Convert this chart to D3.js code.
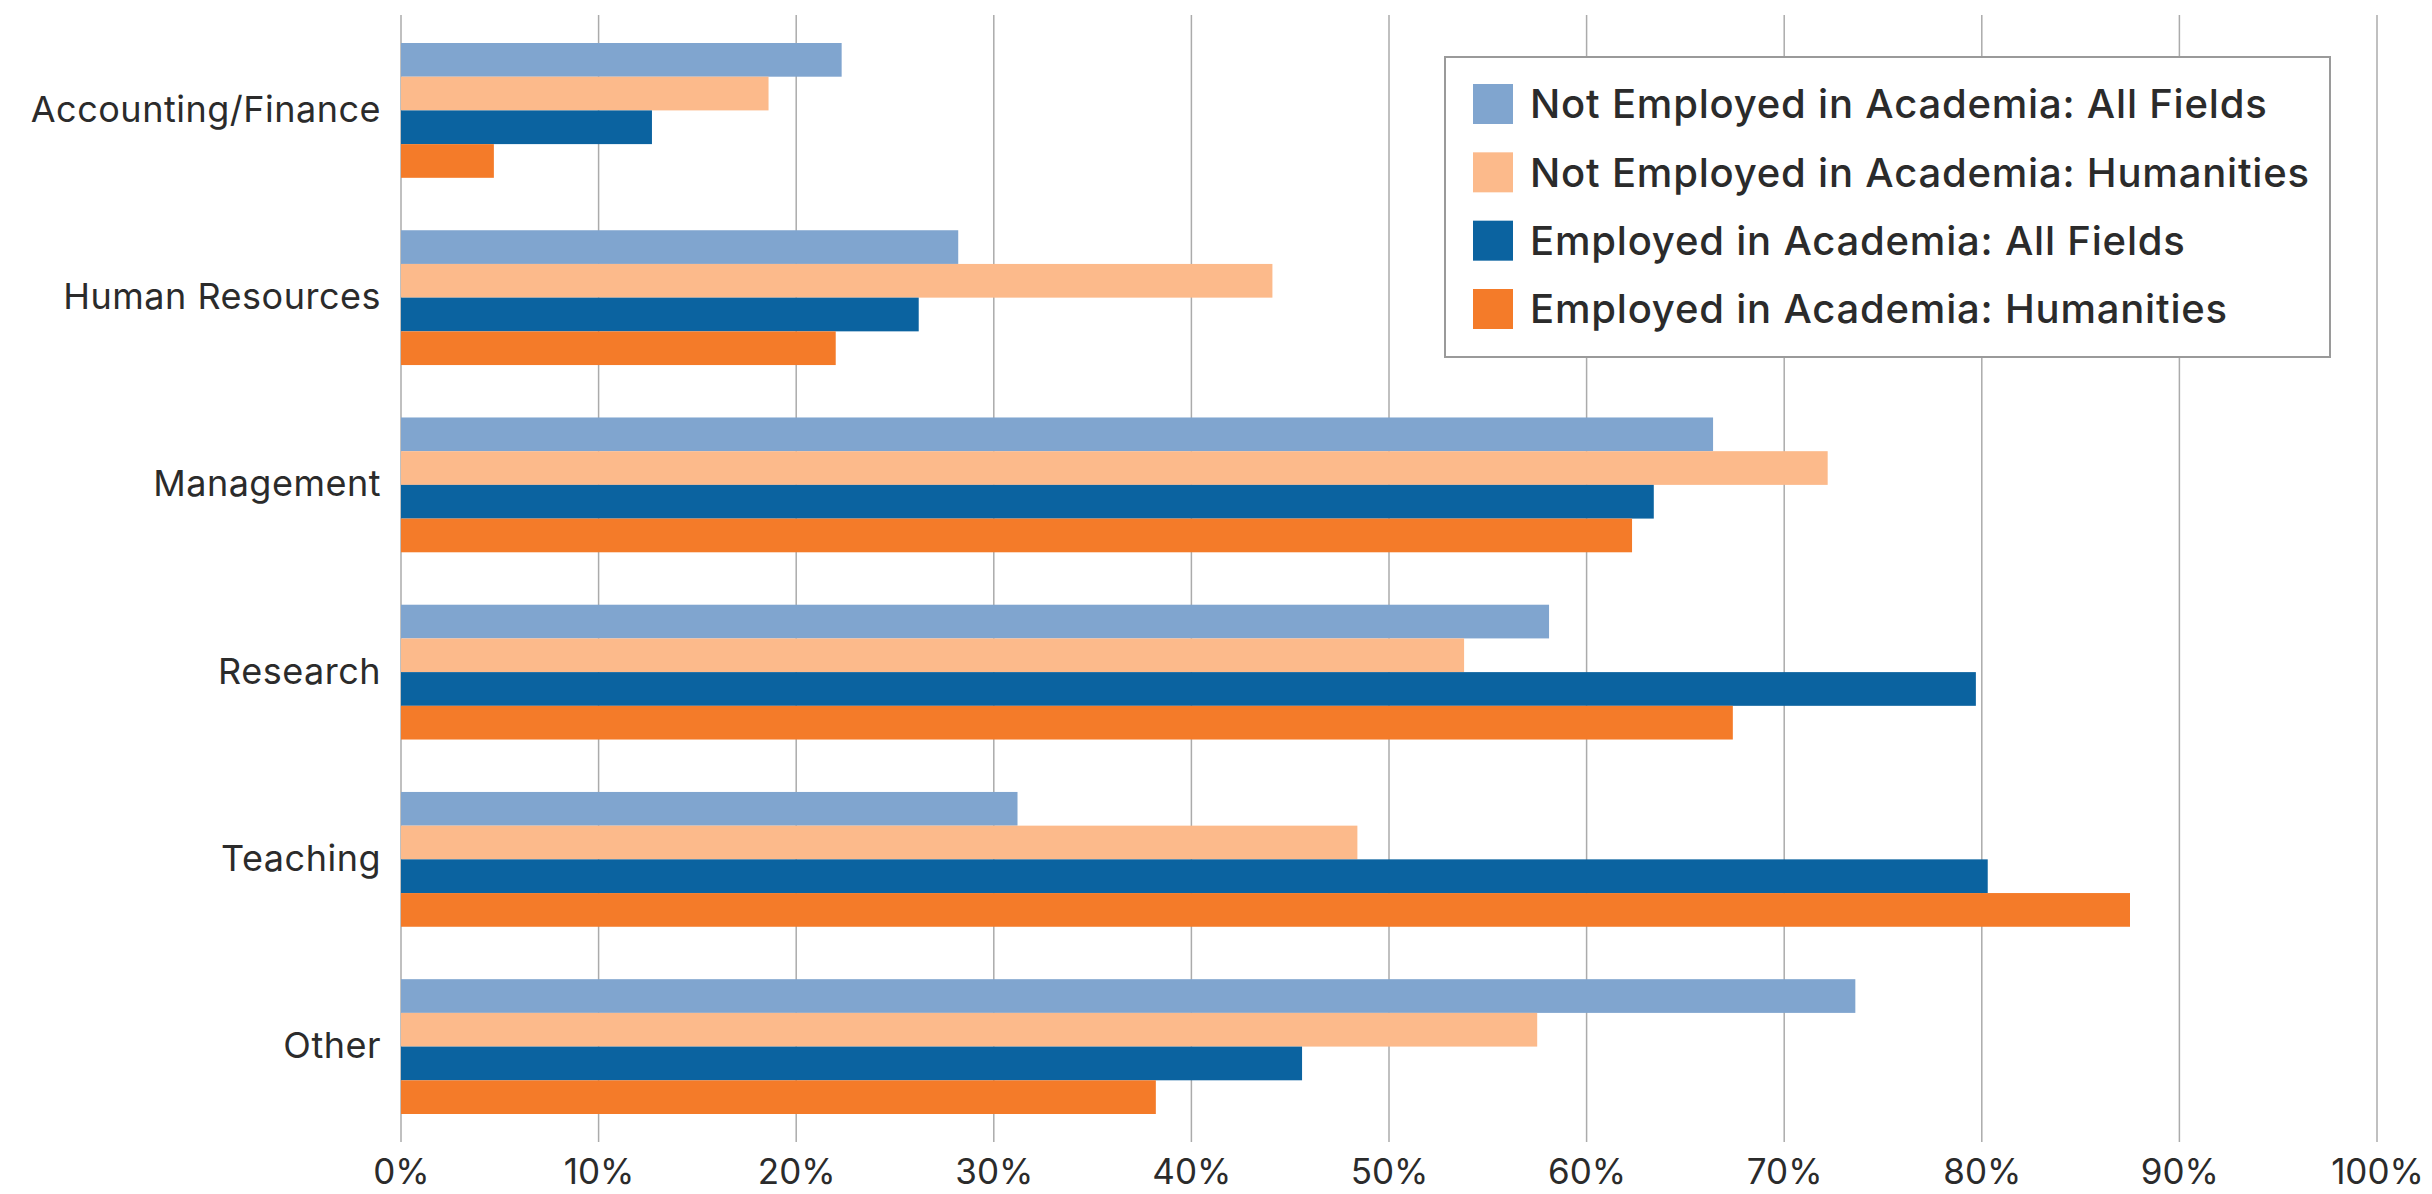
<!DOCTYPE html>
<html>
<head>
<meta charset="utf-8">
<script src="https://cdn.jsdelivr.net/npm/d3@7/dist/d3.min.js"></script>
<style>
  html, body { margin: 0; padding: 0; background: #fff; }
  svg { display: block; }
  text { font-family: Inter, "Noto Sans", sans-serif; fill: #2b2b2b; }
</style>
</head>
<body>
<svg id="chart" width="2432" height="1194"></svg>
<script>
// Job categories, top to bottom
const categories = ["Accounting/Finance", "Human Resources", "Management", "Research", "Teaching", "Other"];

// Series names, in legend / bar order within each group
const seriesNames = [
  "Not Employed in Academia: All Fields",
  "Not Employed in Academia: Humanities",
  "Employed in Academia: All Fields",
  "Employed in Academia: Humanities"
];

// Percent of respondents, one value per category
const notAcademiaAll = [22.3, 28.2, 66.4, 58.1, 31.2, 73.6];
const notAcademiaHum = [18.6, 44.1, 72.2, 53.8, 48.4, 57.5];
const academiaAll    = [12.7, 26.2, 63.4, 79.7, 80.3, 45.6];
const academiaHum    = [4.7, 22.0, 62.3, 67.4, 87.5, 38.2];

const tickValues = [0, 10, 20, 30, 40, 50, 60, 70, 80, 90, 100];
const seriesColors = ["#80a5cf", "#fcba8b", "#0b63a0", "#f47b29"];

const seriesValues = [notAcademiaAll, notAcademiaHum, academiaAll, academiaHum];

const svg = d3.select("#chart");

const x = d3.scaleLinear().domain([0, 100]).range([401, 2377]);

const y = d3.scaleBand()
  .domain(categories)
  .range([43, 1114])
  .paddingInner(0.28)
  .paddingOuter(0);

const ySub = d3.scaleBand()
  .domain(d3.range(seriesNames.length))
  .range([0, y.bandwidth()])
  .padding(0);

// Vertical gridlines
const gridTop = 15, gridBottom = 1142;
svg.append("g")
  .selectAll("line")
  .data(tickValues)
  .join("line")
  .attr("x1", d => x(d)).attr("x2", d => x(d))
  .attr("y1", gridTop).attr("y2", gridBottom)
  .attr("stroke", "#ababab")
  .attr("stroke-width", 1.5);

// Tick labels along the bottom
const xAxis = d3.axisBottom(x)
  .tickValues(tickValues)
  .tickFormat(d => d + "%")
  .tickSize(0)
  .tickPadding(0);

const axisG = svg.append("g")
  .attr("transform", `translate(0, 1184)`)
  .call(xAxis);
axisG.select(".domain").remove();
axisG.selectAll("text")
  .attr("y", 0)
  .attr("dy", "0")
  .style("font-size", "35px")
  .style("font-family", "Inter, 'Noto Sans', sans-serif")
  .style("fill", "#2b2b2b");

// Bars
const groups = svg.append("g")
  .selectAll("g")
  .data(categories)
  .join("g")
  .attr("transform", c => `translate(0, ${y(c)})`);

groups.selectAll("rect")
  .data((c, ci) => seriesValues.map((vals, si) => ({ si, v: vals[ci] })))
  .join("rect")
  .attr("x", x(0))
  .attr("y", d => ySub(d.si))
  .attr("width", d => x(d.v) - x(0))
  .attr("height", ySub.bandwidth())
  .attr("fill", d => seriesColors[d.si]);

// Category labels
const yAxis = d3.axisLeft(y).tickSize(0).tickPadding(0);
const yAxisG = svg.append("g")
  .attr("transform", `translate(${x(0) - 20}, 0)`)
  .call(yAxis);
yAxisG.select(".domain").remove();
yAxisG.selectAll("text")
  .style("font-size", "36px")
  .style("letter-spacing", "0.5px")
  .style("font-family", "Inter, 'Noto Sans', sans-serif")
  .style("fill", "#2b2b2b");

// Legend
const legend = svg.append("g").attr("transform", "translate(1445, 57)");
legend.append("rect")
  .attr("width", 885).attr("height", 300)
  .attr("fill", "#fff")
  .attr("stroke", "#9a9a9a")
  .attr("stroke-width", 2);

const rowY = d3.scalePoint()
  .domain(d3.range(seriesNames.length))
  .range([47, 252]);

const items = legend.selectAll("g.item")
  .data(seriesNames)
  .join("g")
  .attr("class", "item")
  .attr("transform", (d, i) => `translate(0, ${rowY(i)})`);

items.append("rect")
  .attr("x", 28).attr("y", -20)
  .attr("width", 40).attr("height", 40)
  .attr("fill", (d, i) => seriesColors[i]);

items.append("text")
  .attr("x", 85)
  .attr("dy", "0.36em")
  .style("font-size", "40px")
  .style("letter-spacing", "0.8px")
  .style("font-weight", 500)
  .text(d => d);
</script>
</body>
</html>
